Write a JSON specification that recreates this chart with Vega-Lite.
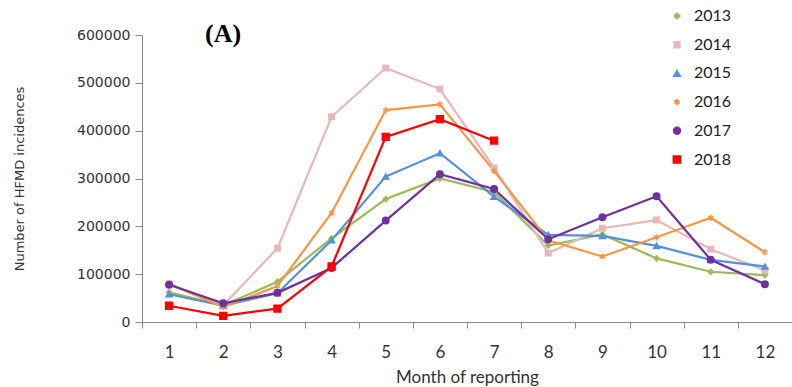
{
  "$schema": "https://vega.github.io/schema/vega-lite/v6.json",
  "autosize": {"type": "none"},
  "padding": {"left": 142, "top": 35, "right": 0, "bottom": 65},
  "width": 650,
  "height": 287,
  "background": "white",
  "title": {"text": "(A)", "anchor": "start", "frame": "group", "dx": 63, "dy": 22, "offset": -17, "font": "Liberation Serif", "fontSize": 26, "fontWeight": "bold", "color": "#000000"},
  "config": {"view": {"stroke": null}},
  "data": {"values": [
    {"Year": "2013", "Month": 1, "Cases": 62000}, {"Year": "2013", "Month": 2, "Cases": 35000}, {"Year": "2013", "Month": 3, "Cases": 84000}, {"Year": "2013", "Month": 4, "Cases": 175000}, {"Year": "2013", "Month": 5, "Cases": 257000}, {"Year": "2013", "Month": 6, "Cases": 300000}, {"Year": "2013", "Month": 7, "Cases": 272000}, {"Year": "2013", "Month": 8, "Cases": 160000}, {"Year": "2013", "Month": 9, "Cases": 183000}, {"Year": "2013", "Month": 10, "Cases": 133000}, {"Year": "2013", "Month": 11, "Cases": 105000}, {"Year": "2013", "Month": 12, "Cases": 98000},
    {"Year": "2014", "Month": 1, "Cases": 80000}, {"Year": "2014", "Month": 2, "Cases": 35000}, {"Year": "2014", "Month": 3, "Cases": 154000}, {"Year": "2014", "Month": 4, "Cases": 429000}, {"Year": "2014", "Month": 5, "Cases": 531000}, {"Year": "2014", "Month": 6, "Cases": 487000}, {"Year": "2014", "Month": 7, "Cases": 322000}, {"Year": "2014", "Month": 8, "Cases": 144000}, {"Year": "2014", "Month": 9, "Cases": 196000}, {"Year": "2014", "Month": 10, "Cases": 213000}, {"Year": "2014", "Month": 11, "Cases": 152000}, {"Year": "2014", "Month": 12, "Cases": 108000},
    {"Year": "2015", "Month": 1, "Cases": 58000}, {"Year": "2015", "Month": 2, "Cases": 34000}, {"Year": "2015", "Month": 3, "Cases": 60000}, {"Year": "2015", "Month": 4, "Cases": 171000}, {"Year": "2015", "Month": 5, "Cases": 304000}, {"Year": "2015", "Month": 6, "Cases": 353000}, {"Year": "2015", "Month": 7, "Cases": 262000}, {"Year": "2015", "Month": 8, "Cases": 182000}, {"Year": "2015", "Month": 9, "Cases": 180000}, {"Year": "2015", "Month": 10, "Cases": 159000}, {"Year": "2015", "Month": 11, "Cases": 130000}, {"Year": "2015", "Month": 12, "Cases": 116000},
    {"Year": "2016", "Month": 1, "Cases": 80000}, {"Year": "2016", "Month": 2, "Cases": 31000}, {"Year": "2016", "Month": 3, "Cases": 75000}, {"Year": "2016", "Month": 4, "Cases": 228000}, {"Year": "2016", "Month": 5, "Cases": 443000}, {"Year": "2016", "Month": 6, "Cases": 455000}, {"Year": "2016", "Month": 7, "Cases": 316000}, {"Year": "2016", "Month": 8, "Cases": 171000}, {"Year": "2016", "Month": 9, "Cases": 137000}, {"Year": "2016", "Month": 10, "Cases": 177000}, {"Year": "2016", "Month": 11, "Cases": 218000}, {"Year": "2016", "Month": 12, "Cases": 146000},
    {"Year": "2017", "Month": 1, "Cases": 78000}, {"Year": "2017", "Month": 2, "Cases": 39000}, {"Year": "2017", "Month": 3, "Cases": 61000}, {"Year": "2017", "Month": 4, "Cases": 113000}, {"Year": "2017", "Month": 5, "Cases": 212000}, {"Year": "2017", "Month": 6, "Cases": 309000}, {"Year": "2017", "Month": 7, "Cases": 278000}, {"Year": "2017", "Month": 8, "Cases": 173000}, {"Year": "2017", "Month": 9, "Cases": 219000}, {"Year": "2017", "Month": 10, "Cases": 263000}, {"Year": "2017", "Month": 11, "Cases": 130000}, {"Year": "2017", "Month": 12, "Cases": 79000},
    {"Year": "2018", "Month": 1, "Cases": 34000}, {"Year": "2018", "Month": 2, "Cases": 13000}, {"Year": "2018", "Month": 3, "Cases": 28000}, {"Year": "2018", "Month": 4, "Cases": 116000}, {"Year": "2018", "Month": 5, "Cases": 387000}, {"Year": "2018", "Month": 6, "Cases": 424000}, {"Year": "2018", "Month": 7, "Cases": 379000}
  ]},
  "encoding": {
    "x": {"field": "Month", "type": "ordinal", "scale": {"type": "band", "paddingInner": 0, "paddingOuter": 0},
      "axis": {"title": "Month of reporting", "labelAngle": 0, "tickBand": "extent", "tickSize": 6, "labelPadding": 16, "labelFont": "Lato", "labelFontSize": 17, "labelColor": "#333333", "titleFont": "Lato", "titleFontSize": 17, "titleFontWeight": "normal", "titleColor": "#333333", "titlePadding": 9, "domainColor": "#888888", "tickColor": "#888888", "grid": false}},
    "y": {"field": "Cases", "type": "quantitative", "scale": {"domain": [0, 600000], "nice": false},
      "axis": {"title": "Number of HFMD incidences", "values": [0, 100000, 200000, 300000, 400000, 500000, 600000], "format": "d", "grid": false, "tickSize": 7, "labelPadding": 5, "labelFont": "DejaVu Sans", "labelFontSize": 14, "labelColor": "#333333", "titleFont": "DejaVu Sans", "titleFontSize": 13, "titleFontWeight": "normal", "titleColor": "#333333", "titleX": -116, "domainColor": "#888888", "tickColor": "#888888"}}
  },
  "layer": [
    {
      "mark": {"type": "line", "strokeWidth": 2.2},
      "encoding": {
        "color": {"field": "Year", "type": "nominal", "scale": {"domain": ["2013", "2014", "2015", "2016", "2017", "2018"], "range": ["#9BBB59", "#E6B9B8", "#5590D9", "#F79646", "#7030A0", "#FF0000"]}}
      }
    },
    {
      "mark": {"type": "point", "filled": true, "strokeWidth": 1.6, "opacity": 1},
      "encoding": {
        "color": {"field": "Year", "type": "nominal",
          "legend": {"title": null, "orient": "none", "legendX": 527, "legendY": -27, "labelFont": "Lato", "labelFontSize": 16, "labelColor": "#222222", "rowPadding": 12.7, "symbolSize": 81, "labelOffset": 9, "symbolStrokeWidth": 2}},
        "stroke": {"field": "Year", "type": "nominal", "scale": {"domain": ["2013", "2014", "2015", "2016", "2017", "2018"], "range": ["#9BBB59", "#E6B9B8", "#5590D9", "#F79646", "#7030A0", "#FF0000"]}, "legend": null},
        "shape": {"field": "Year", "type": "nominal", "scale": {"domain": ["2013", "2014", "2015", "2016", "2017", "2018"], "range": ["diamond", "square", "triangle-up", "M0,-1L0,1M-0.87,-0.5L0.87,0.5M-0.87,0.5L0.87,-0.5", "circle", "square"]}},
        "size": {"field": "Year", "type": "nominal", "scale": {"domain": ["2013", "2014", "2015", "2016", "2017", "2018"], "range": [25, 45, 110, 100, 100, 40]}, "legend": null}
      }
    }
  ]
}
